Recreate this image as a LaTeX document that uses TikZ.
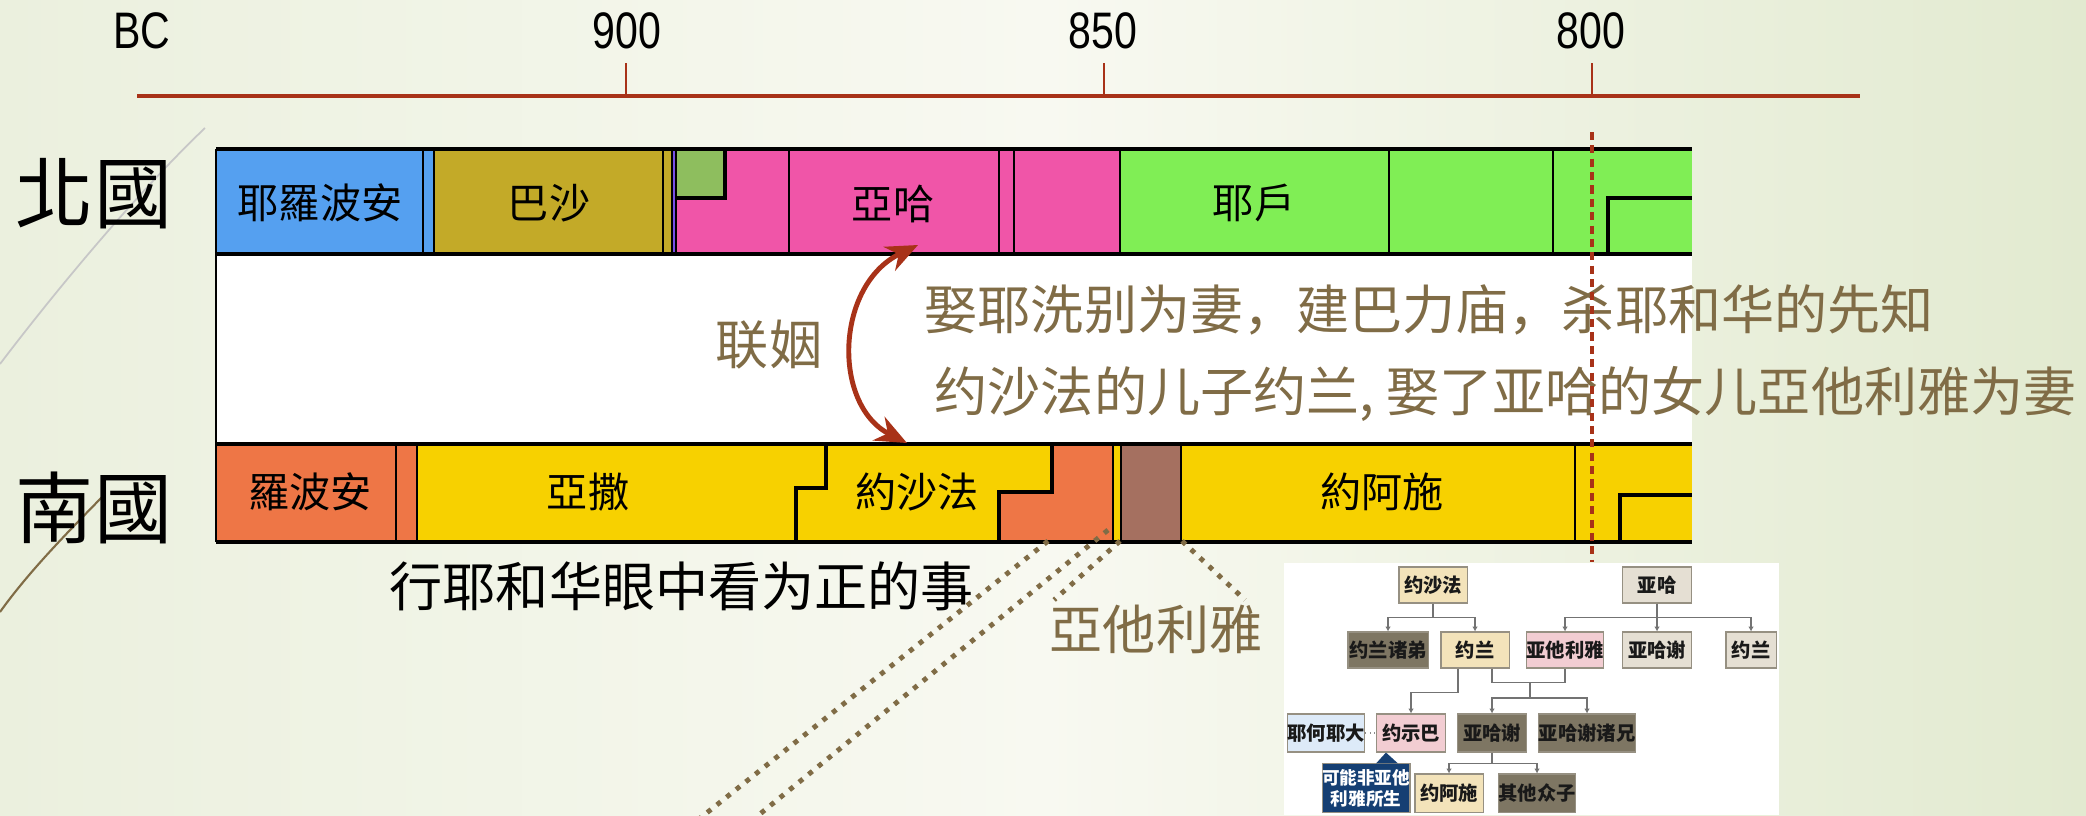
\documentclass[tikz,border=0pt]{standalone}
\usepackage{fontspec}
\setmainfont{Liberation Sans}
\newfontfamily\cjktc{Noto Sans CJK TC}
\newfontfamily\cjksc{Noto Sans CJK SC}
\usepackage{tikz}
\usetikzlibrary{arrows.meta,calc}

\definecolor{axisred}{RGB}{168,50,24}
\definecolor{textbrown}{RGB}{128,108,70}
\definecolor{jblue}{RGB}{85,160,240}
\definecolor{jolive}{RGB}{195,170,40}
\definecolor{jpurple}{RGB}{120,80,230}
\definecolor{jpink}{RGB}{240,85,168}
\definecolor{jtibni}{RGB}{142,190,94}
\definecolor{jgreen}{RGB}{128,238,85}
\definecolor{jorange}{RGB}{238,118,70}
\definecolor{jyellow}{RGB}{247,209,0}
\definecolor{jbrown}{RGB}{165,112,96}
\definecolor{bgleft}{RGB}{235,240,222}
\definecolor{bgmid}{RGB}{248,249,241}
\definecolor{bgright}{RGB}{226,234,208}
\definecolor{ftan}{RGB}{243,227,186}
\definecolor{fgrey}{RGB}{229,223,211}
\definecolor{fdark}{RGB}{126,118,99}
\definecolor{fpink}{RGB}{242,205,210}
\definecolor{fblue}{RGB}{221,234,248}
\definecolor{fnavy}{RGB}{21,63,115}
\definecolor{fedge}{RGB}{150,144,130}

\tikzset{
  axisline/.style={axisred, line width=1.1pt},
  tickline/.style={axisred, line width=0.6pt},
  yearlabel/.style={anchor=base, inner sep=0pt, font=\fontsize{14.6pt}{16pt}\selectfont},
  kingdom/.style={inner sep=0pt, font=\cjktc\fontsize{22.2pt}{24pt}\selectfont},
  seglabel/.style={inner sep=0pt, font=\cjktc\fontsize{11.7pt}{13pt}\selectfont},
  barline/.style={black, line width=1.4pt},
  sepline/.style={black, line width=0.55pt},
  stepline/.style={black, line width=1.1pt},
  remark/.style={inner sep=0pt, text=textbrown, font=\cjksc\fontsize{15.1pt}{17pt}\selectfont},
  marriage/.style={axisred, line width=1.4pt, {Stealth[length=9pt,width=7.5pt]}-{Stealth[length=9pt,width=7.5pt]}},
  dotline/.style={textbrown, line width=1.4pt, dash pattern=on 1.4pt off 2.1pt},
  fambox/.style={draw=fedge, line width=0.3pt, inner sep=0pt, minimum height=0.36cm,
    font=\cjksc\bfseries\fontsize{5.5pt}{6pt}\selectfont, text=black!90},
  treeline/.style={black!55, line width=0.35pt, -{Latex[length=1.4pt,width=1.6pt]}}
}

\begin{document}
\begin{tikzpicture}[x=0.01cm,y=-0.01cm]
\useasboundingbox (0,0) rectangle (2086,815);
\shade[left color=bgleft, right color=bgright, middle color=bgmid] (0,0) rectangle (2086,815);

\draw[black!22, line width=0.5pt] (205,128) .. controls (140,190) and (60,285) .. (0,364);
\draw[textbrown, line width=0.6pt] (104,495) .. controls (70,530) and (30,570) .. (0,612);

\draw[axisline] (137,96) -- (1860,96);
\draw[tickline] (626,63) -- (626,96);
\draw[tickline] (1104,63) -- (1104,96);
\draw[tickline] (1592,63) -- (1592,96);
\node[yearlabel] (bc) at (142,48) {\scalebox{0.8}[1]{BC}};
\node[yearlabel] (y900) at (627,48) {\scalebox{0.8}[1]{900}};
\node[yearlabel] (y850) at (1103,48) {\scalebox{0.8}[1]{850}};
\node[yearlabel] (y800) at (1591,48) {\scalebox{0.8}[1]{800}};

\node[kingdom] (north) at (94,194) {北國};
\node[kingdom] (south) at (94,508) {南國};

\fill[jblue] (216,149) rectangle (434,254);
\fill[jolive] (434,149) rectangle (672,254);
\fill[jpurple] (672,149) rectangle (676,254);
\fill[jpink] (676,149) rectangle (1120,254);
\fill[jtibni] (676,149) rectangle (725,198);
\fill[jgreen] (1120,149) rectangle (1692,254);
\draw[sepline] (423,149) -- (423,254);
\draw[sepline] (434,149) -- (434,254);
\draw[sepline] (663,149) -- (663,254);
\draw[sepline] (672,149) -- (672,254);
\draw[sepline] (676,149) -- (676,254);
\draw[sepline] (789,149) -- (789,254);
\draw[sepline] (999,149) -- (999,254);
\draw[sepline] (1014,149) -- (1014,254);
\draw[sepline] (1120,149) -- (1120,254);
\draw[sepline] (1389,149) -- (1389,254);
\draw[sepline] (1553,149) -- (1553,254);
\draw[stepline] (676,198) -- (725,198) -- (725,149);
\draw[stepline] (1608,254) -- (1608,198) -- (1692,198);

\fill[white] (216,254) rectangle (1692,444);

\fill[jorange] (216,444) rectangle (417,542);
\fill[jyellow] (417,444) rectangle (1692,542);
\fill[jorange] (1052,444) -- (1113,444) -- (1113,542) -- (999,542) -- (999,492) -- (1052,492) -- cycle;
\fill[jbrown] (1121,444) rectangle (1181,542);
\draw[sepline] (396,444) -- (396,542);
\draw[sepline] (417,444) -- (417,542);
\draw[sepline] (1113,444) -- (1113,542);
\draw[sepline] (1121,444) -- (1121,542);
\draw[sepline] (1181,444) -- (1181,542);
\draw[sepline] (1575,444) -- (1575,542);
\draw[stepline] (826,444) -- (826,488) -- (796,488) -- (796,542);
\draw[stepline] (1052,444) -- (1052,492) -- (999,492) -- (999,542);
\draw[stepline] (1620,542) -- (1620,495) -- (1692,495);

\draw[barline] (216,149) -- (1692,149);
\draw[barline] (216,254) -- (1692,254);
\draw[barline] (216,444) -- (1692,444);
\draw[barline] (216,542) -- (1692,542);
\draw[sepline] (216,149) -- (216,542);

\node[seglabel] (n1) at (320,203) {耶羅波安};
\node[seglabel] (n2) at (549,203) {巴沙};
\node[seglabel] (n3) at (893,204) {亞哈};
\node[seglabel] (n4) at (1254,203) {耶戶};
\node[seglabel] (s1) at (310,492) {羅波安};
\node[seglabel] (s2) at (588,492) {亞撒};
\node[seglabel] (s3) at (917,492) {約沙法};
\node[seglabel] (s4) at (1382,492) {約阿施};

\node[remark, anchor=west] (deeds) at (924,310) {娶耶洗别为妻，建巴力庙，杀耶和华的先知};
\node[remark, anchor=west] (wedding) at (934,394) {约沙法的儿子约兰, 娶了亚哈的女儿亞他利雅为妻};
\node[remark] (union) at (769,345) {联姻};
\node[remark, text=black, anchor=west] (upright) at (389,586) {行耶和华眼中看为正的事};
\node[remark] (athname) at (1156,629) {亞他利雅};

\coordinate (ahabend) at (918,245);
\coordinate (joshend) at (907,443);
\draw[marriage] (ahabend) .. controls (835,285) and (832,405) .. (joshend);

\coordinate (jr1) at (1048,541);
\coordinate (jr2) at (1108,530);
\coordinate (at1) at (1120,541);
\coordinate (at2) at (1182,541);
\coordinate (off1) at (689,827);
\coordinate (off2) at (744,827);
\draw[dotline] (jr1) -- (off1);
\draw[dotline] (jr2) -- (off2);
\draw[dotline] (at1) -- ($(athname.north west)+(5,-4)$);
\draw[dotline] (at2) -- ($(athname.north east)+(-18,-4)$);

\draw[axisred, line width=0.9pt, dash pattern=on 2.3pt off 1.5pt] (1592,132) -- (1592,562);

\fill[white] (1284,563) rectangle (1779,815);
\node[fambox, fill=ftan, minimum width=0.68cm] (js) at (1433,585) {约沙法};
\node[fambox, fill=fgrey, minimum width=0.69cm] (ahab) at (1657,585) {亚哈};
\node[fambox, fill=fdark, minimum width=0.80cm] (jbros) at (1388,650) {约兰诸弟};
\node[fambox, fill=ftan, minimum width=0.68cm] (joram) at (1475,650) {约兰};
\node[fambox, fill=fpink, minimum width=0.76cm] (athal) at (1565,650) {亚他利雅};
\node[fambox, fill=fgrey, minimum width=0.69cm] (ahz1) at (1657,650) {亚哈谢};
\node[fambox, fill=fgrey, minimum width=0.50cm] (jorn) at (1751,650) {约兰};
\node[fambox, fill=fblue, minimum width=0.77cm, minimum height=0.38cm] (jehoiada) at (1326,733) {耶何耶大};
\node[fambox, fill=fpink, minimum width=0.69cm, minimum height=0.38cm] (jehosheba) at (1411,733) {约示巴};
\node[fambox, fill=fdark, minimum width=0.69cm, minimum height=0.38cm] (ahz2) at (1492,733) {亚哈谢};
\node[fambox, fill=fdark, minimum width=0.97cm, minimum height=0.38cm] (ahzbros) at (1587,733) {亚哈谢诸兄};
\node[fambox, fill=ftan, minimum width=0.68cm, minimum height=0.38cm] (joash) at (1449,793) {约阿施};
\node[fambox, fill=fdark, minimum width=0.71cm, minimum height=0.38cm] (others) at (1537,793) {其他众子};
\node[fambox, fill=fnavy, text=white, minimum width=0.85cm, minimum height=0.49cm, align=center,
  font=\cjksc\bfseries\fontsize{5pt}{6pt}\selectfont] (doubt) at (1366,788) {可能非亚他\\利雅所生};
\fill[fnavy] ($(doubt.north)+(10,0.5)$) -- ($(jehosheba.south west)+(10,0)$) -- ($(doubt.north)+(32,0.5)$) -- cycle;

\draw[treeline] (js.south) -- ++(0,14) -| (jbros.north);
\draw[treeline] (js.south) -- ++(0,14) -| (joram.north);
\draw[treeline] (ahab.south) -- ++(0,14) -| (athal.north);
\draw[treeline] (ahab.south) -- (ahz1.north);
\draw[treeline] (ahab.south) -- ++(0,14) -| (jorn.north);
\draw[treeline] ($(joram.south)+(-17,0)$) -- ++(0,24) -| (jehosheba.north);
\draw[black!55, line width=0.35pt] ($(joram.south)+(17,0)$) -- ++(0,14) -| (athal.south);
\coordinate (couple) at (1530,682);
\draw[treeline] (couple) -- ++(0,16) -| (ahz2.north);
\draw[treeline] (couple) -- ++(0,16) -| (ahzbros.north);
\draw[treeline] (ahz2.south) -- ++(0,11) -| (joash.north);
\draw[treeline] (ahz2.south) -- ++(0,11) -| (others.north);
\draw[black!45, line width=0.3pt, densely dotted] (jehoiada.east) -- (jehosheba.west);
\end{tikzpicture}
\end{document}
